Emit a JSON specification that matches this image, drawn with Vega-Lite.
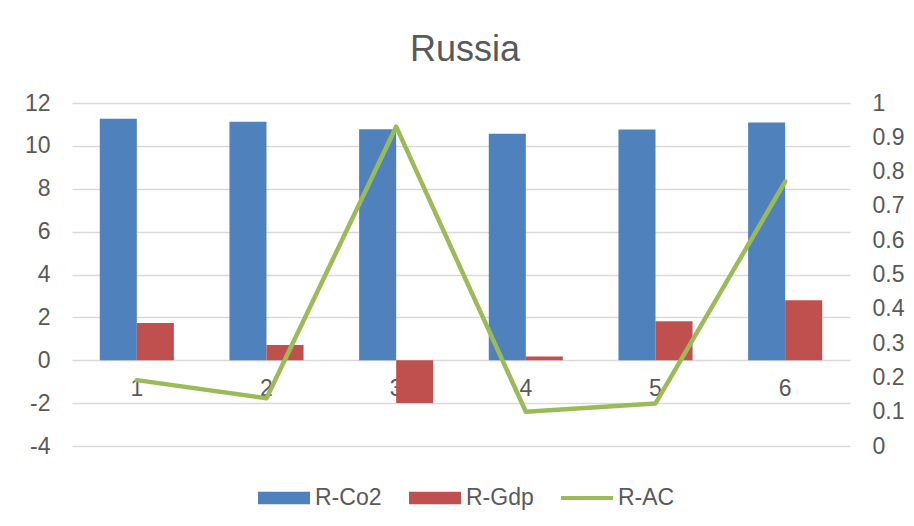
{
  "$schema": "https://vega.github.io/schema/vega-lite/v6.json",
  "width": 778,
  "height": 343,
  "autosize": {"type": "none"},
  "padding": {"left": 72, "top": 103, "right": 64, "bottom": 80},
  "background": "white",
  "title": {
    "text": "Russia",
    "fontSize": 36,
    "font": "Liberation Sans",
    "fontWeight": "normal",
    "color": "#595959",
    "anchor": "middle",
    "offset": 23,
    "dx": 4
  },
  "datasets": {
    "bars": [
      {"cat": "1", "series": "R-Co2", "value": 11.27},
      {"cat": "1", "series": "R-Gdp", "value": 1.74},
      {"cat": "2", "series": "R-Co2", "value": 11.13},
      {"cat": "2", "series": "R-Gdp", "value": 0.71},
      {"cat": "3", "series": "R-Co2", "value": 10.77},
      {"cat": "3", "series": "R-Gdp", "value": -1.99},
      {"cat": "4", "series": "R-Co2", "value": 10.57},
      {"cat": "4", "series": "R-Gdp", "value": 0.17},
      {"cat": "5", "series": "R-Co2", "value": 10.76},
      {"cat": "5", "series": "R-Gdp", "value": 1.82},
      {"cat": "6", "series": "R-Co2", "value": 11.09},
      {"cat": "6", "series": "R-Gdp", "value": 2.8}
    ],
    "line": [
      {"cat": "1", "series": "R-AC", "value": 0.192},
      {"cat": "2", "series": "R-AC", "value": 0.139},
      {"cat": "3", "series": "R-AC", "value": 0.931},
      {"cat": "4", "series": "R-AC", "value": 0.1},
      {"cat": "5", "series": "R-AC", "value": 0.124},
      {"cat": "6", "series": "R-AC", "value": 0.771}
    ]
  },
  "encoding": {
    "x": {
      "field": "cat",
      "type": "nominal",
      "scale": {"paddingInner": 0.4286, "paddingOuter": 0.2143},
      "axis": {
        "title": null,
        "labelAngle": 0,
        "domain": false,
        "ticks": false,
        "grid": false,
        "offset": -86,
        "labelPadding": 17,
        "labelFontSize": 23,
        "labelFont": "Liberation Sans",
        "labelColor": "#595959"
      }
    },
    "color": {
      "field": "series",
      "type": "nominal",
      "scale": {
        "domain": ["R-Co2", "R-Gdp", "R-AC"],
        "range": ["#4F81BD", "#C0504D", "#9BBB59"]
      },
      "legend": {
        "title": null,
        "orient": "none",
        "legendX": 186,
        "legendY": 369,
        "direction": "horizontal",
        "labelFontSize": 23,
        "labelFont": "Liberation Sans",
        "labelColor": "#595959",
        "labelOffset": 5,
        "columnPadding": 27,
        "symbolSize": 2704,
        "symbolStrokeWidth": 0,
        "encode": {
          "symbols": {
            "update": {
              "shape": {"signal": "datum.value === 'R-AC' ? 'M-1,-0.08H1V0.08H-1Z' : 'M-1,-0.245H1V0.245H-1Z'"},
              "fill": {"signal": "datum.value === 'R-Co2' ? '#4F81BD' : datum.value === 'R-Gdp' ? '#C0504D' : '#9BBB59'"},
              "strokeWidth": {"value": 0},
              "opacity": {"value": 1}
            }
          }
        }
      }
    }
  },
  "layer": [
    {
      "data": {"name": "bars"},
      "mark": {"type": "bar", "opacity": 1},
      "encoding": {
        "xOffset": {"field": "series", "type": "nominal", "scale": {"domain": ["R-Co2", "R-Gdp"], "paddingInner": 0, "paddingOuter": 0}},
        "y": {
          "field": "value",
          "type": "quantitative",
          "scale": {"domain": [-4, 12], "nice": false, "zero": false},
          "axis": {
            "title": null,
            "values": [-4, -2, 0, 2, 4, 6, 8, 10, 12],
            "labelExpr": "toString(datum.value)",
            "domain": false,
            "ticks": false,
            "grid": true,
            "gridColor": "#D9D9D9",
            "gridWidth": 1.3,
            "labelPadding": 22,
            "labelFontSize": 23,
            "labelFont": "Liberation Sans",
            "labelColor": "#595959"
          }
        }
      }
    },
    {
      "data": {"name": "line"},
      "mark": {"type": "line", "strokeWidth": 4.5, "strokeJoin": "round", "strokeCap": "round"},
      "encoding": {
        "y": {
          "field": "value",
          "type": "quantitative",
          "scale": {"domain": [0, 1], "nice": false, "zero": false},
          "axis": {
            "title": null,
            "orient": "right",
            "values": [0, 0.1, 0.2, 0.3, 0.4, 0.5, 0.6, 0.7, 0.8, 0.9, 1],
            "labelExpr": "toString(datum.value)",
            "domain": false,
            "ticks": false,
            "grid": false,
            "labelPadding": 22,
            "labelFontSize": 23,
            "labelFont": "Liberation Sans",
            "labelColor": "#595959"
          }
        }
      }
    }
  ],
  "resolve": {"scale": {"y": "independent"}},
  "config": {
    "view": {"stroke": null}
  }
}
